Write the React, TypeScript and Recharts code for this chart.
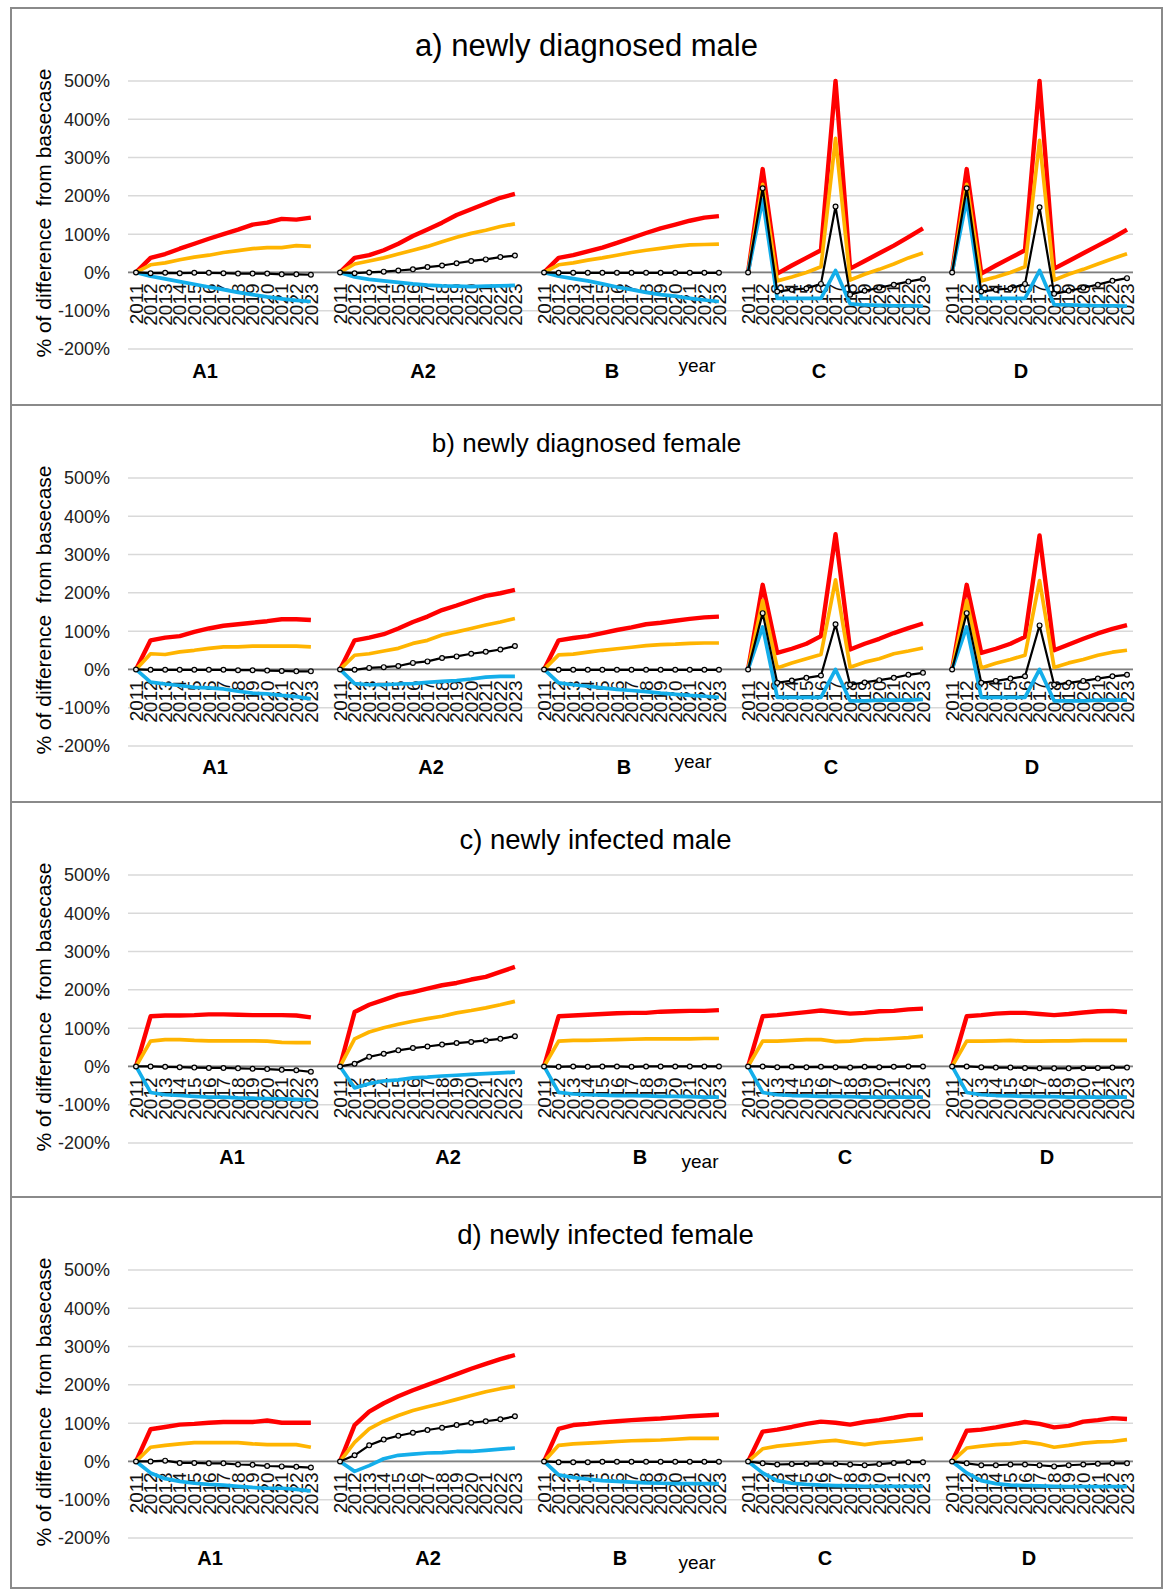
import React from "react";
import { LineChart, Line, XAxis, YAxis, CartesianGrid, ReferenceLine } from "recharts";

document.body.style.margin = "0";
document.body.style.overflow = "hidden";

const years = ["2011", "2012", "2013", "2014", "2015", "2016", "2017", "2018", "2019", "2020", "2021", "2022", "2023"];
const groups = ["A1", "A2", "B", "C", "D"];
const yTicks = [-200, -100, 0, 100, 200, 300, 400, 500];

// a) newly diagnosed male  (A1 | A2 | B | C | D)
const aRed = [
  0, 38, 48, 62, 75, 88, 100, 112, 125, 130, 140, 138, 143,
  0, 38, 45, 58, 75, 95, 112, 130, 150, 165, 180, 195, 205,
  0, 38, 45, 55, 65, 77, 90, 103, 115, 125, 135, 143, 147,
  0, 270, -3, 18, 38, 58, 500, 10, 30, 50, 70, 92, 115,
  0, 270, -3, 18, 38, 58, 500, 10, 30, 50, 70, 90, 112,
];
const aOrange = [
  0, 20, 25, 33, 40, 45, 52, 57, 62, 65, 65, 70, 68,
  0, 22, 30, 38, 48, 58, 68, 80, 92, 102, 110, 120, 127,
  0, 20, 25, 32, 38, 45, 52, 58, 63, 68, 72, 73, 74,
  0, 230, -22, -12, 0, 15, 350, -20, -5, 8, 22, 38, 51,
  0, 230, -22, -12, 0, 15, 345, -20, -5, 8, 22, 36, 49,
];
const aBlack = [
  0, -2, -1, -2, -1, -1, -2, -3, -3, -3, -5, -5, -6,
  0, -2, 0, 2, 5, 8, 14, 18, 24, 30, 34, 40, 44,
  0, -1, -1, -1, -1, -1, -1, -1, -1, -1, -1, -1, -1,
  0, 220, -50, -45, -42, -30, 172, -58, -48, -40, -32, -24, -17,
  0, 220, -50, -45, -42, -30, 170, -56, -48, -40, -32, -22, -15,
];
const aBlue = [
  0, -10, -17, -24, -31, -38, -45, -52, -58, -64, -69, -73, -76,
  0, -12, -18, -22, -26, -30, -33, -35, -36, -37, -36, -35, -34,
  0, -10, -16, -22, -30, -38, -45, -52, -58, -62, -68, -72, -76,
  0, 190, -68, -68, -68, -68, 5, -82, -85, -86, -87, -87, -88,
  0, 190, -68, -68, -68, -68, 5, -84, -85, -86, -87, -87, -88,
];

// b) newly diagnosed female
const bRed = [
  0, 76, 83, 87, 98, 107, 114, 118, 122, 126, 131, 131, 129,
  0, 76, 83, 92, 107, 124, 138, 155, 167, 180, 192, 199, 208,
  0, 76, 82, 87, 95, 103, 110, 118, 122, 127, 132, 136, 138,
  0, 221, 43, 54, 67, 87, 353, 52, 67, 80, 95, 108, 120,
  0, 221, 43, 54, 67, 85, 350, 50, 65, 80, 94, 106, 116,
];
const bOrange = [
  0, 41, 39, 46, 50, 55, 59, 59, 61, 61, 61, 61, 59,
  0, 37, 41, 48, 55, 68, 76, 90, 98, 107, 116, 124, 133,
  0, 38, 40, 45, 50, 54, 58, 62, 65, 66, 68, 69, 69,
  0, 180, 4, 17, 28, 39, 234, 6, 19, 28, 41, 48, 56,
  0, 180, 4, 16, 26, 37, 232, 5, 17, 26, 37, 45, 50,
];
const bBlack = [
  0, -1, -1, -1, -1, -1, -1, -2, -2, -3, -4, -5, -5,
  0, -1, 4, 6, 9, 17, 21, 30, 34, 41, 46, 52, 61,
  0, -1, -1, -1, -1, -1, -1, -1, -1, -1, -1, -1, -1,
  0, 147, -35, -29, -22, -16, 118, -40, -34, -28, -22, -14, -9,
  0, 147, -35, -30, -24, -18, 115, -40, -35, -30, -24, -18, -14,
];
const bBlue = [
  0, -33, -38, -42, -47, -48, -51, -57, -62, -64, -68, -71, -77,
  0, -37, -40, -40, -38, -37, -34, -31, -29, -25, -20, -18, -18,
  0, -35, -40, -44, -48, -52, -55, -58, -62, -65, -68, -70, -73,
  0, 111, -73, -73, -73, -73, 0, -82, -82, -80, -80, -80, -78,
  0, 111, -73, -73, -73, -73, 0, -82, -82, -82, -80, -80, -80,
];

// c) newly infected male
const cRed = [
  0, 131, 133, 133, 134, 136, 136, 135, 134, 134, 134, 133, 128,
  0, 142, 161, 174, 187, 194, 203, 212, 218, 227, 234, 247, 260,
  0, 131, 133, 135, 137, 139, 140, 140, 143, 144, 145, 145, 147,
  0, 131, 134, 138, 142, 146, 142, 138, 140, 144, 145, 149, 151,
  0, 131, 134, 138, 140, 140, 137, 134, 137, 141, 144, 145, 142,
];
const cOrange = [
  0, 66, 70, 70, 68, 67, 67, 67, 67, 66, 63, 62, 62,
  0, 72, 90, 101, 110, 118, 125, 131, 140, 146, 153, 161, 170,
  0, 66, 68, 68, 69, 70, 71, 72, 72, 72, 72, 73, 73,
  0, 66, 66, 68, 70, 70, 65, 66, 70, 71, 73, 75, 79,
  0, 66, 66, 67, 68, 66, 66, 67, 67, 68, 68, 68, 68,
];
const cBlack = [
  0, 0, -1, -2, -3, -4, -4, -5, -6, -7, -9, -10, -14,
  0, 7, 25, 33, 42, 48, 52, 57, 61, 64, 68, 72, 79,
  0, -1, 0, -1, 0, 0, -1, 0, 0, 0, 0, 0, 0,
  0, 0, -2, -1, -2, -1, -2, -3, -1, -2, -1, 0, 0,
  0, 0, -2, -3, -3, -4, -5, -5, -5, -4, -4, -3, -3,
];
const cBlue = [
  0, -68, -74, -76, -78, -80, -80, -82, -83, -84, -85, -86, -87,
  0, -56, -45, -38, -35, -30, -28, -25, -23, -21, -19, -17, -15,
  0, -68, -72, -74, -75, -76, -76, -77, -78, -78, -79, -80, -80,
  0, -68, -74, -76, -77, -78, -78, -79, -80, -80, -80, -80, -80,
  0, -68, -74, -76, -77, -78, -79, -79, -80, -80, -80, -80, -80,
];

// d) newly infected female
const dRed = [
  0, 84, 90, 96, 98, 101, 103, 103, 103, 107, 101, 101, 101,
  0, 95, 130, 152, 170, 186, 200, 214, 228, 242, 255, 267, 278,
  0, 85, 95, 98, 102, 105, 108, 110, 112, 115, 118, 120, 122,
  0, 78, 83, 90, 98, 104, 101, 96, 103, 108, 114, 121, 122,
  0, 80, 83, 89, 96, 103, 98, 89, 93, 104, 108, 113, 111,
];
const dOrange = [
  0, 37, 42, 46, 49, 49, 49, 49, 46, 44, 44, 44, 37,
  0, 50, 85, 105, 120, 133, 143, 152, 162, 172, 182, 190, 196,
  0, 42, 46, 48, 50, 52, 54, 55, 56, 58, 60, 60, 60,
  0, 33, 40, 44, 48, 52, 55, 49, 44, 49, 52, 56, 60,
  0, 35, 40, 44, 46, 51, 46, 37, 42, 48, 51, 52, 57,
];
const dBlack = [
  0, 0, 2, -4, -4, -5, -5, -8, -9, -12, -13, -14, -16,
  0, 16, 42, 57, 67, 75, 82, 88, 95, 101, 105, 110, 118,
  0, -2, -2, -2, -1, -1, -1, -1, -1, -1, -1, -1, -1,
  0, -5, -8, -7, -6, -5, -6, -8, -10, -7, -4, -2, -2,
  0, -5, -10, -10, -8, -8, -10, -13, -10, -8, -6, -5, -5,
];
const dBlue = [
  0, -30, -45, -52, -57, -60, -62, -65, -68, -70, -70, -73, -77,
  0, -26, -11, 7, 16, 19, 22, 23, 26, 26, 29, 32, 35,
  0, -35, -42, -46, -50, -52, -54, -56, -57, -58, -58, -58, -58,
  0, -30, -50, -57, -60, -62, -63, -64, -65, -65, -65, -65, -65,
  0, -30, -50, -58, -62, -63, -64, -65, -66, -66, -66, -66, -66,
];

const FONT = '"Liberation Sans", Arial, sans-serif';
const CHART_W = 1149;
const CHART_H = 385;
const M_TOP = 72;
const PLOT_H = 268;
const ZERO_Y = M_TOP + (PLOT_H * 500) / 700;
const MARGIN = { top: M_TOP, right: 28, left: 0, bottom: 15 };

type Row = { key: string; red: number | null; orange: number | null; black: number | null; blue: number | null };

function buildRows(red: number[], orange: number[], black: number[], blue: number[]): Row[] {
  const rows: Row[] = [];
  groups.forEach((g, gi) => {
    years.forEach((yr, i) => {
      const k = gi * years.length + i;
      rows.push({ key: `${g}-${yr}`, red: red[k], orange: orange[k], black: black[k], blue: blue[k] });
    });
    if (gi < groups.length - 1) {
      rows.push({ key: `gap-${g}`, red: null, orange: null, black: null, blue: null });
    }
  });
  return rows;
}

function YearTick(props: any) {
  const { x, payload } = props;
  const v: string = String(payload.value);
  if (v.startsWith("gap")) return <g />;
  const ty = ZERO_Y + 11;
  return (
    <text
      x={x}
      y={ty}
      dy="0.35em"
      textAnchor="end"
      transform={`rotate(-90, ${x}, ${ty})`}
      fontSize={19}
      fontFamily={FONT}
      fill="#111"
    >
      {v.split("-")[1]}
    </text>
  );
}

interface PanelProps {
  top: number;
  height: number;
  title: string;
  titleSize: number;
  titleShift: number;
  rows: Row[];
  labelX: number[];
  labelY: number;
  yearX: number;
  yearY: number;
}

function Panel({ top, height, title, titleSize, titleShift, rows, labelX, labelY, yearX, yearY }: PanelProps) {
  const ox = 12;
  const oy = top + 2;
  return (
    <div
      style={{
        position: "absolute",
        left: 10,
        top,
        width: 1153,
        height,
        boxSizing: "border-box",
        border: "2px solid #8a8a8a",
        background: "#fff",
        fontFamily: FONT,
        overflow: "hidden",
      }}
    >
      <div
        style={{
          position: "absolute",
          left: titleShift,
          width: 1149,
          top: 37 - 18,
          lineHeight: "36px",
          fontSize: titleSize,
          textAlign: "center",
          color: "#000",
        }}
      >
        {title}
      </div>
      <div
        style={{
          position: "absolute",
          left: 43.5 - ox - 170,
          top: 206 - 2 - 13,
          width: 340,
          height: 26,
          lineHeight: "26px",
          fontSize: 21,
          textAlign: "center",
          transform: "rotate(-90deg)",
          whiteSpace: "pre",
          color: "#000",
        }}
      >
        {"% of difference  from basecase"}
      </div>
      {/* axes, grid and year labels underneath */}
      <div style={{ position: "absolute", left: 0, top: 0 }}>
        <LineChart width={CHART_W} height={CHART_H} data={rows} margin={MARGIN}>
          <CartesianGrid horizontal vertical={false} stroke="#d9d9d9" strokeWidth={1.5} />
          <XAxis
            dataKey="key"
            type="category"
            interval={0}
            height={30}
            axisLine={false}
            tickLine={false}
            padding={{ left: 8, right: 6 }}
            tick={<YearTick />}
          />
          <YAxis
            type="number"
            domain={[-200, 500]}
            ticks={yTicks}
            width={116}
            axisLine={false}
            tickLine={false}
            tickSize={0}
            tickMargin={18}
            tickFormatter={(v) => `${v}%`}
            tick={{ fontSize: 18, fill: "#222", fontFamily: FONT }}
          />
          <ReferenceLine y={0} stroke="#7f7f7f" strokeWidth={1.8} />
          <Line dataKey="red" stroke="none" dot={false} isAnimationActive={false} />
        </LineChart>
      </div>
      {/* series on top of the tick labels */}
      <div style={{ position: "absolute", left: 0, top: 0 }}>
        <LineChart width={CHART_W} height={CHART_H} data={rows} margin={MARGIN}>
          <XAxis
            dataKey="key"
            type="category"
            interval={0}
            height={30}
            axisLine={false}
            tickLine={false}
            tick={false}
            padding={{ left: 8, right: 6 }}
          />
          <YAxis
            type="number"
            domain={[-200, 500]}
            ticks={yTicks}
            width={116}
            axisLine={false}
            tickLine={false}
            tick={false}
          />
          <Line type="linear" dataKey="red" stroke="#ff0000" strokeWidth={4.4} strokeLinejoin="round" dot={false} isAnimationActive={false} />
          <Line type="linear" dataKey="orange" stroke="#ffb400" strokeWidth={3.7} strokeLinejoin="round" dot={false} isAnimationActive={false} />
          <Line type="linear" dataKey="blue" stroke="#14aeea" strokeWidth={3.7} strokeLinejoin="round" dot={false} isAnimationActive={false} />
          <Line
            type="linear"
            dataKey="black"
            stroke="#000"
            strokeWidth={2.2}
            strokeLinejoin="round"
            dot={{ r: 2.4, stroke: "#000", strokeWidth: 1.2, fill: "#e6e6e6" }}
            isAnimationActive={false}
          />
        </LineChart>
      </div>
      {groups.map((g, i) => (
        <div
          key={g}
          style={{
            position: "absolute",
            left: labelX[i] - ox - 40,
            width: 80,
            top: labelY - oy - 12,
            lineHeight: "24px",
            fontSize: 20,
            fontWeight: "bold",
            textAlign: "center",
            color: "#000",
          }}
        >
          {g}
        </div>
      ))}
      <div
        style={{
          position: "absolute",
          left: yearX - ox - 40,
          width: 80,
          top: yearY - oy - 12,
          lineHeight: "24px",
          fontSize: 19,
          textAlign: "center",
          color: "#000",
        }}
      >
        year
      </div>
    </div>
  );
}

export default function App() {
  return (
    <div style={{ position: "relative", width: 1167, height: 1589, background: "#fff", overflow: "hidden" }}>
      <Panel
        top={7}
        height={399}
        title="a) newly diagnosed male"
        titleSize={31}
        titleShift={0}
        rows={buildRows(aRed, aOrange, aBlack, aBlue)}
        labelX={[205, 423, 612, 819, 1021]}
        labelY={370.5}
        yearX={697}
        yearY={366}
      />
      <Panel
        top={404}
        height={399}
        title="b) newly diagnosed female"
        titleSize={26}
        titleShift={0}
        rows={buildRows(bRed, bOrange, bBlack, bBlue)}
        labelX={[215, 431, 624, 831, 1032]}
        labelY={767}
        yearX={693}
        yearY={762}
      />
      <Panel
        top={801}
        height={397}
        title="c) newly infected male"
        titleSize={27.5}
        titleShift={9}
        rows={buildRows(cRed, cOrange, cBlack, cBlue)}
        labelX={[232, 448, 640, 845, 1047]}
        labelY={1157}
        yearX={700}
        yearY={1162}
      />
      <Panel
        top={1196}
        height={393}
        title="d) newly infected female"
        titleSize={27.5}
        titleShift={19}
        rows={buildRows(dRed, dOrange, dBlack, dBlue)}
        labelX={[210, 428, 620, 825, 1029]}
        labelY={1558}
        yearX={697}
        yearY={1563}
      />
    </div>
  );
}
